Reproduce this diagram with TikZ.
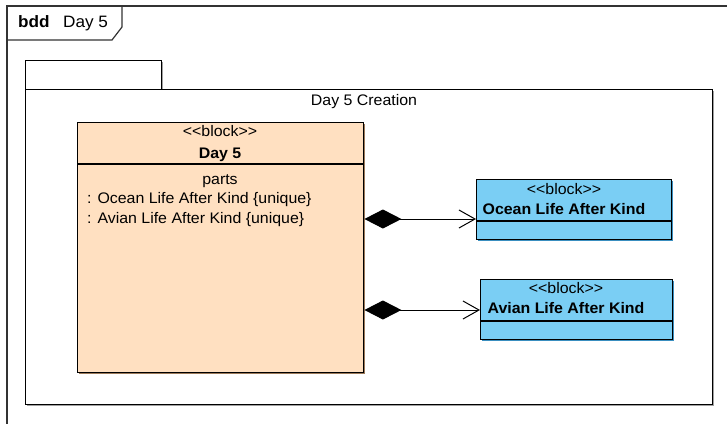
\documentclass[tikz,border=0pt]{standalone}
\usepackage{fontspec}
\setmainfont{Liberation Sans}[FakeStretch=1.04]
\usetikzlibrary{arrows.meta,shadows}

\definecolor{peach}{HTML}{FFE0C1}
\definecolor{peachshade}{HTML}{9C7A5A}
\definecolor{sky}{HTML}{7ACEF4}
\definecolor{skyshade}{HTML}{3A8FC0}
\definecolor{framegray}{HTML}{333333}
\definecolor{pkgshade}{HTML}{A0A0A0}

% stereotype text, kept free of the << >> guillemet mapping
\newcommand{\stereotag}[1]{<\kern0pt<#1>\kern0pt>}

\begin{document}
\begin{tikzpicture}[x=1pt, y=-1pt,
  font=\fontsize{15.3}{18}\selectfont,
  lbl/.style={inner sep=0pt, text height=11pt, text depth=3pt},
  framestroke/.style={draw=framegray, line width=1.2pt},
  pkgbox/.style={draw=black, fill=white, line width=1.2pt, inner sep=0pt, anchor=north west,
    general shadow={shadow xshift=1pt, shadow yshift=-1pt, fill=pkgshade}},
  blockbox/.style={draw=black, line width=1.4pt, inner sep=0pt, anchor=north west},
  peachblock/.style={blockbox, fill=peach,
    general shadow={shadow xshift=1.5pt, shadow yshift=-1.5pt, fill=peachshade}},
  skyblock/.style={blockbox, fill=sky,
    general shadow={shadow xshift=1.5pt, shadow yshift=-1.5pt, fill=skyshade}},
  divider/.style={draw=black, line width=1.1pt},
  assoc/.style={draw=black, line width=1pt,
    {Diamond[length=37pt, width=19pt]}-{Straight Barb[length=16pt, width=18pt]}}
]
\useasboundingbox (0,0) rectangle (727,423);

% diagram frame and its name tab
\draw[framestroke] (7,430) -- (7,6) -- (735,6);
\draw[framestroke] (7,40) -- (112,40) -- (122,27) -- (122,6);
\node[lbl, anchor=west, font=\fontsize{16.5}{19}\selectfont] (kind) at (18,23) {\textbf{bdd}};
\node[lbl, anchor=west, font=\fontsize{16.5}{19}\selectfont] (title) at (63,23) {Day 5};

% package
\node[pkgbox, minimum width=136pt, minimum height=29pt] (pkgtab) at (25,60) {};
\node[pkgbox, minimum width=687pt, minimum height=315pt] (pkg) at (25,89) {};
\node[lbl] (pkgname) at (364,101) {Day 5 Creation};

% Day 5 block
\node[peachblock, minimum width=286pt, minimum height=250pt] (day5) at (77,122) {};
\draw[divider] (day5.west |- 0,164) -- (day5.east |- 0,164);
\node[lbl] (day5st) at (220,132) {\stereotag{block}};
\node[lbl] (day5nm) at (220,154) {\textbf{Day 5}};
\node[lbl] (parts) at (220,180) {parts};
\node[lbl, anchor=west] (part1) at (87,199) {: Ocean Life After Kind \{unique\}};
\node[lbl, anchor=west] (part2) at (87,219) {: Avian Life After Kind \{unique\}};

% Ocean Life After Kind block
\node[skyblock, minimum width=195pt, minimum height=60pt] (ocean) at (476,179) {};
\draw[divider] (ocean.west |- 0,221) -- (ocean.east |- 0,221);
\node[lbl] (oceanst) at (564,190) {\stereotag{block}};
\node[lbl] (oceannm) at (564,210) {\textbf{Ocean Life After Kind}};

% Avian Life After Kind block
\node[skyblock, minimum width=192pt, minimum height=60pt] (avian) at (480,279) {};
\draw[divider] (avian.west |- 0,321) -- (avian.east |- 0,321);
\node[lbl] (avianst) at (566,289) {\stereotag{block}};
\node[lbl] (aviannm) at (566,309) {\textbf{Avian Life After Kind}};

% composition connectors
\coordinate (oceanport) at (ocean.west |- 0,219);
\coordinate (avianport) at (avian.west |- 0,310);
\draw[assoc] (oceanport -| day5.east) -- (oceanport);
\draw[assoc] (avianport -| day5.east) -- (avianport);
\end{tikzpicture}
\end{document}
